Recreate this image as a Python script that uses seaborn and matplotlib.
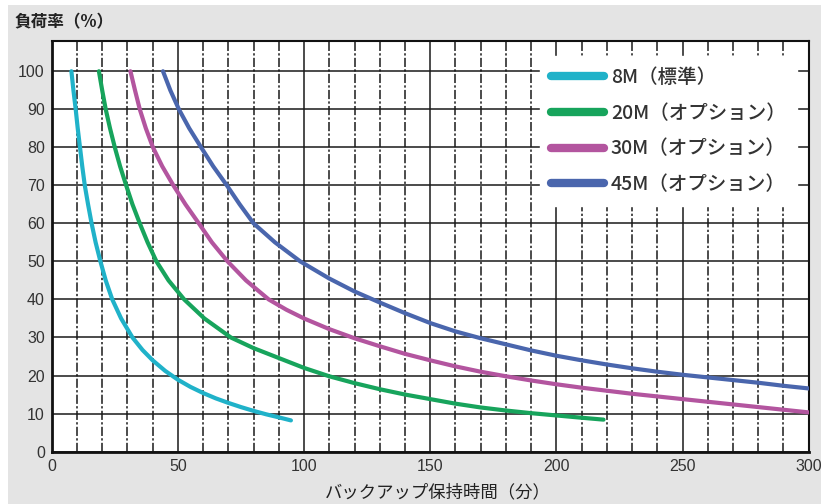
import numpy as np
import pandas as pd
import matplotlib
matplotlib.use("Agg")
import matplotlib.pyplot as plt
from matplotlib.lines import Line2D
from matplotlib.patches import Rectangle
from matplotlib.ticker import MultipleLocator
import seaborn as sns

# Curve values (x = backup time [min], y = load [%])
x_8m = [7.8, 8.6, 9.5, 10.3, 11.2, 12.1, 13.1, 14.4, 15.8, 17.4, 19.3, 21.4, 24, 27.5,
        32, 36, 40, 45, 50, 55, 60, 65, 70, 75, 80, 85, 90, 94.8]
y_8m = [100, 95, 90, 85, 80, 75, 70, 65, 60, 55, 50, 45, 40, 35,
        30, 26.7, 24, 21.2, 18.9, 17, 15.4, 14, 12.8, 11.7, 10.7, 9.8, 9.0, 8.2]

x_20m = [18.7, 20, 21.4, 23.1, 25, 27.1, 29.5, 32, 34.9, 38, 41.5, 46.3, 52.5, 60.5,
         71, 80, 90, 100, 110, 120, 130, 140, 150, 160, 170, 180, 190, 200, 210, 218.7]
y_20m = [100, 95, 90, 85, 80, 75, 70, 65, 60, 55, 50, 45, 40, 35,
         30, 27.2, 24.6, 22, 19.8, 18, 16.4, 15, 13.8, 12.6, 11.6, 10.8, 10.1, 9.5, 8.9, 8.4]

x_30m = [31.2, 33, 34.9, 37.3, 40.1, 43.8, 48.2, 53, 58.3, 63.5, 69.7, 77, 86, 93, 100,
         110, 120, 130, 140, 150, 160, 170, 180, 190, 200, 210, 220, 230, 240, 250,
         260, 270, 280, 290, 300]
y_30m = [100, 95, 90, 85, 80, 75, 70, 65, 60, 55, 50, 45, 40, 37.3, 35,
         32.2, 29.8, 27.7, 25.7, 24, 22.4, 21, 19.8, 18.7, 17.7, 16.8, 16, 15.2, 14.5, 13.8,
         13.1, 12.4, 11.7, 11, 10.3]

x_45m = [44.1, 47, 50.4, 54.5, 59.2, 64, 69.4, 74.5, 80, 88.5, 98.5, 110, 120, 130,
         140, 150, 160, 170, 180, 190, 200, 210, 220, 230, 240, 250, 260, 270, 280, 290, 300]
y_45m = [100, 95, 90, 85, 80, 75, 70, 65, 60, 55, 50, 45.5, 42.1, 39.2,
         36.4, 33.8, 31.6, 29.8, 28.2, 26.6, 25.2, 24, 22.9, 21.9, 21, 20.2, 19.5, 18.8, 18.1, 17.3, 16.6]

labels = ["8M（標準）", "20M（オプション）", "30M（オプション）", "45M（オプション）"]
colors = ["#20b2c9", "#17a45c", "#b3559f", "#4a66ad"]

# long-form table for seaborn
frames = []
for lab, xs, ys in zip(labels, [x_8m, x_20m, x_30m, x_45m], [y_8m, y_20m, y_30m, y_45m]):
    frames.append(pd.DataFrame({"time": xs, "load": ys, "model": lab}))
df = pd.concat(frames, ignore_index=True)

sns.set_style("white")
plt.rcParams["font.family"] = ["Noto Sans CJK JP", "DejaVu Sans"]

bg = "#e4e4e4"
fig = plt.figure(figsize=(8.21, 5.04), dpi=100, facecolor="white")
# grey panel behind the chart (thin white margin at top / left)
fig.patches.append(Rectangle((8 / 821, 0), 1, 1 - 5 / 504, transform=fig.transFigure,
                             facecolor=bg, edgecolor="none", zorder=-10))

ax = fig.add_axes([0.063, 0.104, 0.922, 0.815])
ax.set_zorder(1)
ax.set_facecolor("white")

sns.lineplot(data=df, x="time", y="load", hue="model", palette=colors,
             estimator=None, sort=False, linewidth=3, legend=False, ax=ax,
             solid_capstyle="round", solid_joinstyle="round", zorder=3)

ax.set_xlim(0, 300)
ax.set_ylim(0, 108)
ax.xaxis.set_major_locator(MultipleLocator(50))
ax.xaxis.set_minor_locator(MultipleLocator(10))
ax.set_yticks(np.arange(0, 101, 10))

# grid: solid horizontals, solid verticals every 50, dashed every 10
ax.grid(which="major", axis="both", color="#1a1a1a", linewidth=1.1, linestyle="-", zorder=1)
ax.grid(which="minor", axis="x", color="#1a1a1a", linewidth=1.1,
        linestyle=(0, (6, 1.5, 1.5, 1.5)), zorder=1)
ax.set_axisbelow(True)

ax.tick_params(which="both", length=0, labelsize=11.5, labelcolor="#333333", pad=5)
for lbl in ax.get_xticklabels() + ax.get_yticklabels():
    lbl.set_family(["Liberation Sans", "DejaVu Sans"])
for s in ax.spines.values():
    s.set_color("#111111")
    s.set_linewidth(1.5)
ax.spines["left"].set_linewidth(2)
ax.spines["bottom"].set_linewidth(2)

ax.set_xlabel("")
ax.set_ylabel("")
fig.text(0.018, 0.955, "負荷率（%）", fontsize=12, color="#222222",
         fontweight="bold", ha="left", va="center")
fig.text(0.533, 0.024, "バックアップ保持時間（分）", fontsize=12.5, color="#222222",
         ha="center", va="center")

handles = [Line2D([0], [0], color=c, linewidth=6, solid_capstyle="round") for c in colors]
leg = ax.legend(handles, labels, loc="upper right", bbox_to_anchor=(0.985, 0.962),
                frameon=True, fancybox=False, prop={"size": 14, "weight": "medium"},
                handlelength=2.7, handletextpad=0.35, labelspacing=0.86, borderpad=0.6,
                borderaxespad=0)
leg.get_frame().set_facecolor("white")
leg.get_frame().set_edgecolor("white")
leg.get_frame().set_alpha(1)
for t in leg.get_texts():
    t.set_color("#333333")

fig.savefig("out.png", dpi=100)
